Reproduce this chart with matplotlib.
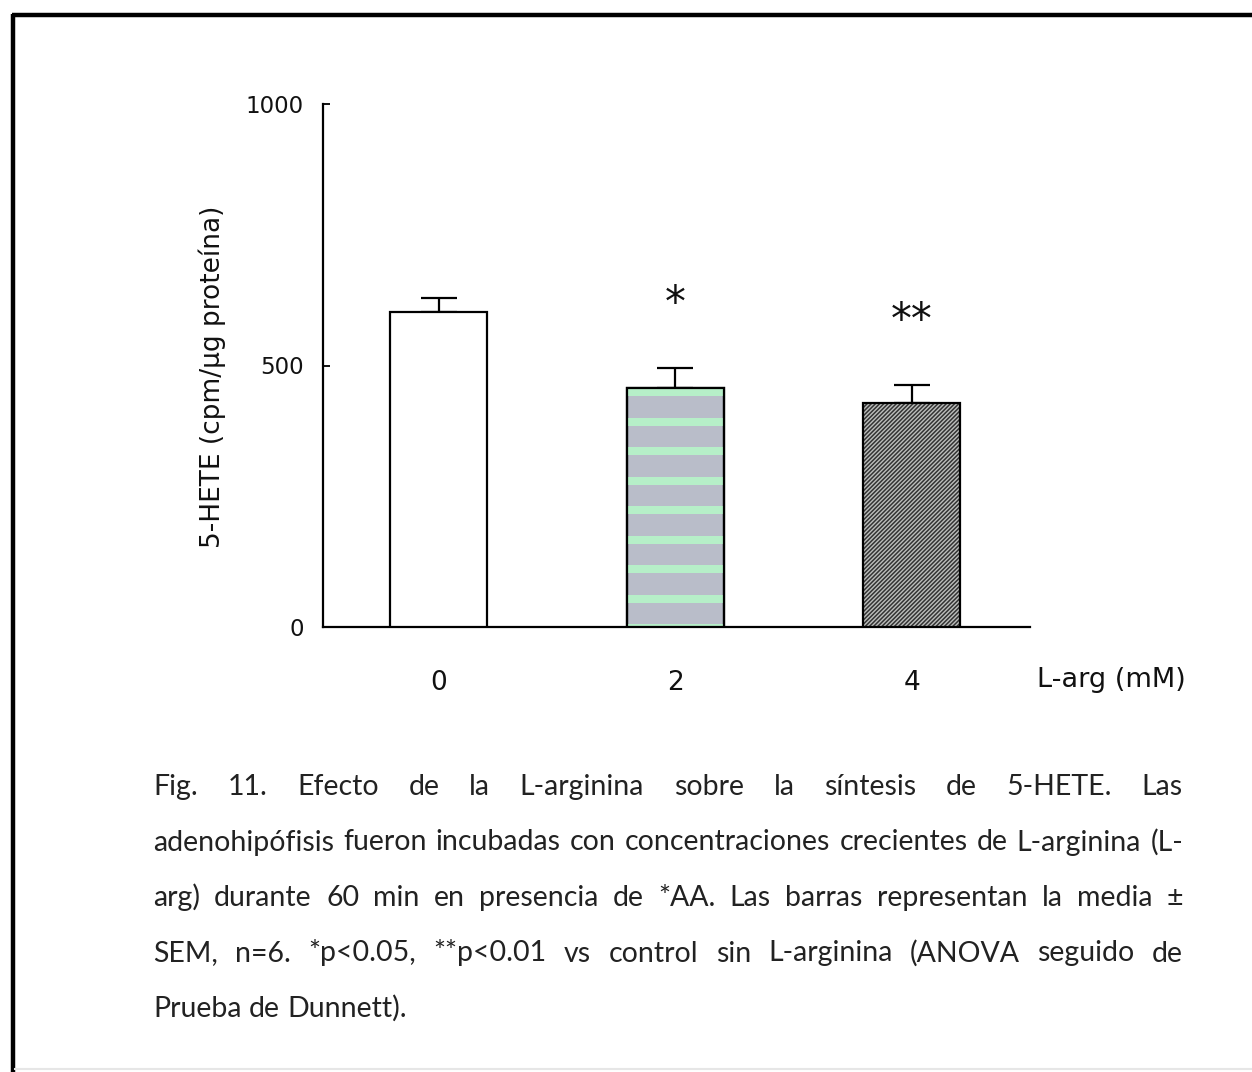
"""Bar chart of 5-HETE synthesis vs L-arginine concentration, with a justified caption."""

import matplotlib

matplotlib.use("Agg")
import matplotlib.pyplot as plt
from matplotlib.lines import Line2D

W, H = 1252, 1072
DPI = 100

# --- data ---
conc_labels = ["0", "2", "4"]
means = [602, 457, 428]
sem = [27, 38, 35]
stars = ["", "*", "**"]

caption_lines = [
    "Fig. 11. Efecto de la L-arginina sobre la síntesis de 5-HETE. Las",
    "adenohipófisis fueron incubadas con concentraciones crecientes de L-arginina (L-",
    "arg) durante 60 min en presencia de *AA. Las barras representan la media ±",
    "SEM, n=6. *p<0.05, **p<0.01 vs control sin L-arginina (ANOVA seguido de",
    "Prueba de Dunnett).",
]

STRIPE_BG = "#b9bdc9"
STRIPE_FG = "#b6efc8"
HATCH_BG = "#bcbebc"
HATCH_FG = "#333333"

plt.rcParams["hatch.linewidth"] = 1.1


def px(x, y):
    """Pixel position (top-left origin) -> figure fraction."""
    return x / W, 1 - y / H


fig = plt.figure(figsize=(W / DPI, H / DPI), dpi=DPI)
fig.patch.set_facecolor("white")

# axes box from pixel edges
left, right, bottom, top = 323, 1030, 627, 104
ax = fig.add_axes([left / W, 1 - bottom / H, (right - left) / W, (bottom - top) / H])

xpos = list(range(len(means)))
bars = ax.bar(xpos, means, width=0.41, edgecolor="black", linewidth=1.6, zorder=3)
bars[0].set_facecolor("white")
bars[1].set_facecolor(STRIPE_BG)
bars[2].set_facecolor(HATCH_BG)
bars[2].set_hatch("////////")
bars[2]._hatch_color = matplotlib.colors.to_rgba(HATCH_FG)

# horizontal mint stripes clipped to the middle bar
stripe_period, stripe_h = 56.4, 15
y0 = -9.7
while y0 < means[1]:
    band = ax.axhspan(y0, y0 + stripe_h, color=STRIPE_FG, lw=0, zorder=3.5)
    band.set_clip_path(bars[1])
    y0 += stripe_period
# redraw the outline over the stripes
ax.bar([xpos[1]], [means[1]], width=0.41, facecolor="none", edgecolor="black",
       linewidth=1.6, zorder=4)

ax.errorbar(xpos, means, yerr=[[0] * len(sem), sem], fmt="none", ecolor="black",
            elinewidth=1.6, capsize=13, capthick=1.6, zorder=2)

for x, m, s, st in zip(xpos, means, sem, stars):
    if st:
        ax.annotate(st, xy=(x, m + s), xytext=(0, 64), textcoords="offset pixels",
                    ha="center", va="center", fontsize=30, color="#111")

ax.set_xlim(-0.49, 2.5)
ax.set_ylim(0, 1000)
ax.set_yticks([0, 500, 1000])
ax.set_xticks(xpos)
ax.set_xticklabels(conc_labels)
for side in ("top", "right"):
    ax.spines[side].set_visible(False)
for side in ("left", "bottom"):
    ax.spines[side].set_linewidth(1.6)
ax.tick_params(axis="y", direction="in", length=5, width=1.4, pad=14,
               labelsize=16.5, colors="#111")
ax.tick_params(axis="x", length=0, pad=31, labelsize=19, colors="#111")

fig.text(*px(212, 377), "5-HETE (cpm/µg proteína)", rotation=90, ha="center",
         va="center", fontsize=19, color="#111")
fig.text(*px(1037, 680), "L-arg (mM)", ha="left", va="center", fontsize=19.5,
         color="#111")

# --- justified caption ---
cap_left, cap_right = 153, 1183
baseline0, line_step = 795, 55.5
cap_kw = dict(fontsize=20.5, family="Lato", color="#222222", va="baseline", ha="left")
renderer = fig.canvas.get_renderer()


def text_width(s):
    t = fig.text(0, 0, s, **cap_kw)
    w = t.get_window_extent(renderer).width
    t.remove()
    return w


space = text_width("a a") - text_width("aa")

for i, line in enumerate(caption_lines):
    words = line.split(" ")
    texts = [fig.text(0, 0, w, **cap_kw) for w in words]
    widths = [t.get_window_extent(renderer).width for t in texts]
    last = i == len(caption_lines) - 1
    if last or len(words) == 1:
        gap = space
    else:
        gap = (cap_right - cap_left - sum(widths)) / (len(words) - 1)
    x = cap_left
    y = baseline0 + i * line_step
    for t, w in zip(texts, widths):
        t.set_position(px(x, y))
        x += w + gap

# page frame: thick left and top rules, faint bottom rule
fig.add_artist(Line2D([13 / W, 13 / W], [0, 1 - 14 / H], color="black", lw=3.2,
                      transform=fig.transFigure, solid_capstyle="butt"))
fig.add_artist(Line2D([11.5 / W, 1], [1 - 15 / H, 1 - 15 / H], color="black", lw=3.2,
                      transform=fig.transFigure, solid_capstyle="butt"))
fig.add_artist(Line2D([15 / W, 1], [1 - 1069 / H, 1 - 1069 / H], color="#e6e6e6",
                      lw=1.5, transform=fig.transFigure))

fig.savefig("out.png", dpi=DPI)
